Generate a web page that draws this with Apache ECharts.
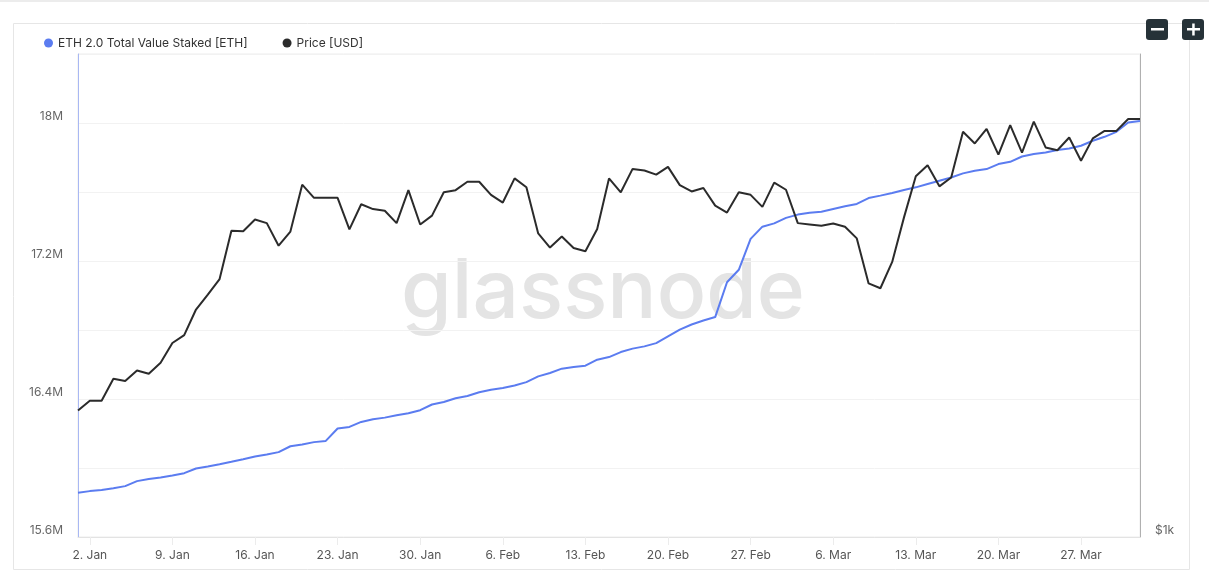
<!DOCTYPE html>
<html>
<head>
<meta charset="utf-8">
<script src="https://cdn.jsdelivr.net/npm/echarts@6/dist/echarts.min.js"></script>
<style>
html,body{margin:0;padding:0;background:#fff;}
#chart{width:1209px;height:573px;}
</style>
</head>
<body>
<div id="chart"></div>
<script>
// Daily dates, 1 Jan 2023 - 1 Apr 2023
const categories = [
'2023-01-01','2023-01-02','2023-01-03','2023-01-04','2023-01-05','2023-01-06','2023-01-07','2023-01-08','2023-01-09','2023-01-10',
'2023-01-11','2023-01-12','2023-01-13','2023-01-14','2023-01-15','2023-01-16','2023-01-17','2023-01-18','2023-01-19','2023-01-20',
'2023-01-21','2023-01-22','2023-01-23','2023-01-24','2023-01-25','2023-01-26','2023-01-27','2023-01-28','2023-01-29','2023-01-30',
'2023-01-31','2023-02-01','2023-02-02','2023-02-03','2023-02-04','2023-02-05','2023-02-06','2023-02-07','2023-02-08','2023-02-09',
'2023-02-10','2023-02-11','2023-02-12','2023-02-13','2023-02-14','2023-02-15','2023-02-16','2023-02-17','2023-02-18','2023-02-19',
'2023-02-20','2023-02-21','2023-02-22','2023-02-23','2023-02-24','2023-02-25','2023-02-26','2023-02-27','2023-02-28','2023-03-01',
'2023-03-02','2023-03-03','2023-03-04','2023-03-05','2023-03-06','2023-03-07','2023-03-08','2023-03-09','2023-03-10','2023-03-11',
'2023-03-12','2023-03-13','2023-03-14','2023-03-15','2023-03-16','2023-03-17','2023-03-18','2023-03-19','2023-03-20','2023-03-21',
'2023-03-22','2023-03-23','2023-03-24','2023-03-25','2023-03-26','2023-03-27','2023-03-28','2023-03-29','2023-03-30','2023-03-31',
'2023-04-01'
];

// ETH 2.0 Total Value Staked [ETH]
const stakedETH = [
15856000,15866000,15872000,15882000,15895000,15924000,15936000,15945000,15957000,15970000,
15997000,16009000,16022000,16036000,16051000,16067000,16078000,16092000,16126000,16136000,
16150000,16157000,16229000,16238000,16267000,16283000,16292000,16306000,16317000,16335000,
16368000,16383000,16404000,16417000,16439000,16454000,16464000,16478000,16498000,16531000,
16551000,16576000,16585000,16593000,16628000,16643000,16672000,16692000,16705000,16724000,
16763000,16802000,16832000,16855000,16875000,17077000,17149000,17328000,17399000,17418000,
17450000,17469000,17480000,17486000,17502000,17517000,17531000,17565000,17579000,17594000,
17612000,17627000,17646000,17665000,17684000,17708000,17723000,17733000,17762000,17775000,
17806000,17820000,17829000,17843000,17852000,17868000,17897000,17920000,17949000,18003000,
18012000
];

// Price [USD]
const priceUSD = [
1199,1216,1216,1255,1251,1270,1264,1284,1321,1336,
1386,1416,1448,1552,1551,1577,1569,1519,1550,1658,
1627,1627,1627,1555,1612,1601,1597,1569,1645,1566,
1586,1640,1645,1665,1665,1634,1616,1673,1652,1546,
1515,1539,1514,1507,1556,1673,1640,1696,1692,1682,
1701,1657,1642,1650,1609,1593,1640,1634,1606,1663,
1646,1569,1566,1563,1568,1561,1535,1439,1429,1484,
1582,1678,1705,1654,1675,1789,1759,1796,1731,1806,
1736,1815,1749,1742,1774,1716,1772,1791,1791,1822,
1822
];

const xTickLabels = ['2. Jan','9. Jan','16. Jan','23. Jan','30. Jan','6. Feb','13. Feb','20. Feb','27. Feb','6. Mar','13. Mar','20. Mar','27. Mar'];
const leftTickLabels = ['15.6M','16.4M','17.2M','18M'];
const rightTickLabels = ['$1k'];

const MONTHS = ['Jan','Feb','Mar','Apr','May','Jun','Jul','Aug','Sep','Oct','Nov','Dec'];
function fmtDate(s){ const p = s.split('-'); return parseInt(p[2],10) + '. ' + MONTHS[parseInt(p[1],10)-1]; }
function isTick(i){ return xTickLabels.indexOf(fmtDate(categories[i])) >= 0; }
function fmtM(v){ const m = Math.round(v/1e5)/10; return m + 'M'; }

const FONT = 'Inter, "Noto Sans", sans-serif';
const chart = echarts.init(document.getElementById('chart'), null, {renderer:'canvas'});

chart.setOption({
  animation: false,
  backgroundColor: '#ffffff',
  textStyle: { fontFamily: FONT },
  graphic: [
    { type:'rect', shape:{x:0,y:0,width:1209,height:2}, style:{fill:'#ececec'}, z:-10, silent:true },
    { type:'rect', shape:{x:13.5,y:23.5,width:1176,height:546}, style:{fill:'#fff', stroke:'#e6e6e6', lineWidth:1}, z:-10, silent:true },
    { type:'text', x:603, y:293, z:-5, silent:true,
      style:{ text:'glassnode', fill:'#e4e4e4', font:'500 82px Inter, sans-serif', textAlign:'center', textVerticalAlign:'middle' } },
    { type:'rect', shape:{x:1146,y:19,width:22,height:21,r:3}, style:{fill:'#263238'}, z:10 },
    { type:'rect', shape:{x:1151,y:28,width:13,height:2.5}, style:{fill:'#ffffff'}, z:11 },
    { type:'rect', shape:{x:1182,y:19,width:22,height:21,r:3}, style:{fill:'#263238'}, z:10 },
    { type:'rect', shape:{x:1187,y:28,width:13,height:2.5}, style:{fill:'#ffffff'}, z:11 },
    { type:'rect', shape:{x:1192.2,y:23.5,width:2.5,height:12}, style:{fill:'#ffffff'}, z:11 }
  ],
  legend: {
    left: 39, top: 32,
    icon: 'circle', itemWidth: 9, itemHeight: 9, itemGap: 35,
    textStyle: { color:'#333', fontSize: 12, fontFamily: FONT },
    data: ['ETH 2.0 Total Value Staked [ETH]', 'Price [USD]']
  },
  grid: {
    left: 78, right: 69, top: 54, bottom: 36,
    show: true, borderColor: '#ececec', borderWidth: 1, containLabel: false
  },
  xAxis: {
    type: 'category',
    boundaryGap: false,
    data: categories,
    axisLine: { show: true, lineStyle: { color:'#e3e3e3', width:1 } },
    axisTick: { show: true, interval: function(i){ return isTick(i); }, length: 8, lineStyle:{ color:'#ececec' } },
    axisLabel: {
      interval: function(i){ return isTick(i); },
      formatter: function(v){ return fmtDate(v); },
      color:'#555', fontSize: 12, margin: 12, fontFamily: FONT
    },
    splitLine: { show: false }
  },
  yAxis: [
    {
      type: 'value', min: 15600000, max: 18400000, interval: 400000,
      position: 'left',
      axisLine: { show: true, lineStyle: { color:'#a9b8f3', width:1 } },
      axisTick: { show: false },
      axisLabel: {
        formatter: function(v){ const t = fmtM(v); return leftTickLabels.indexOf(t) >= 0 ? t : ''; },
        color:'#666', fontSize: 12, margin: 15, verticalAlign: 'bottom', lineHeight: 14, fontFamily: FONT
      },
      splitLine: { show: true, lineStyle: { color:'#f2f2f2', width:1 } }
    },
    {
      type: 'log', logBase: 10, min: 1000, max: 2000,
      position: 'right',
      axisLine: { show: true, lineStyle: { color:'#b0b0b0', width:1 } },
      axisTick: { show: false },
      axisLabel: {
        formatter: function(v){ return Math.abs(v-1000) < 1 ? rightTickLabels[0] : ''; },
        color:'#666', fontSize: 12, margin: 15, verticalAlign: 'bottom', lineHeight: 14, fontFamily: FONT
      },
      splitLine: { show: false }
    }
  ],
  series: [
    {
      name: 'ETH 2.0 Total Value Staked [ETH]', type: 'line', yAxisIndex: 0,
      data: stakedETH, showSymbol: false, symbol:'circle',
      lineStyle: { color:'#5b7cf0', width: 2 }, itemStyle: { color:'#5b7cf0' }, z: 3
    },
    {
      name: 'Price [USD]', type: 'line', yAxisIndex: 1,
      data: priceUSD, showSymbol: false, symbol:'circle',
      lineStyle: { color:'#2b2b2b', width: 2 }, itemStyle: { color:'#2b2b2b' }, z: 4
    }
  ]
});
</script>
</body>
</html>
